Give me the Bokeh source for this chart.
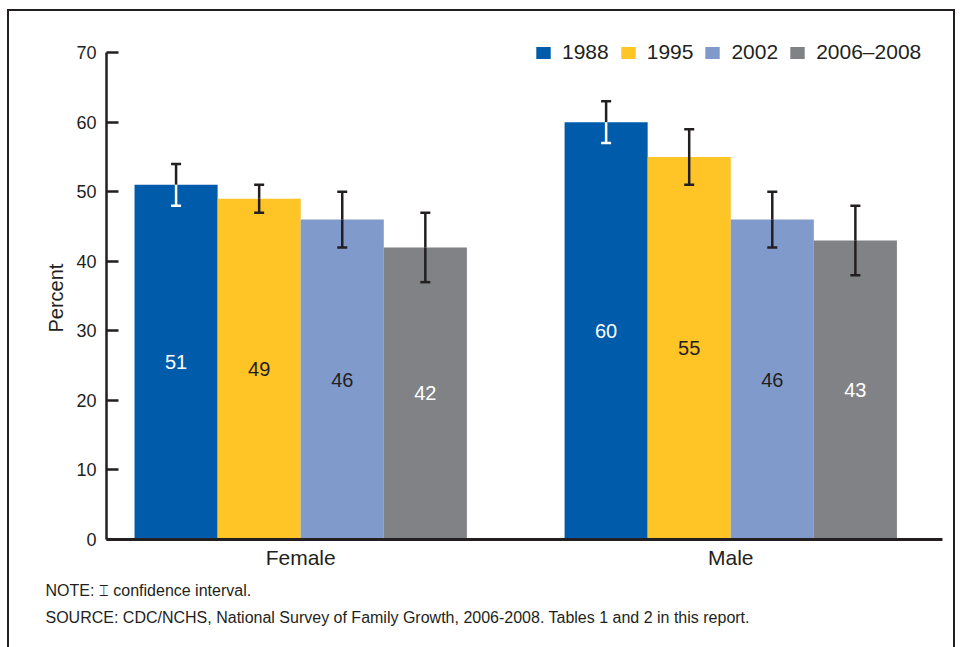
from bokeh.plotting import figure
from bokeh.models import Range1d, FixedTicker, Title, ColumnDataSource
from bokeh.core.properties import value
from bokeh.embed import file_html
from bokeh.resources import INLINE

# ---- data ----
groups = ["Female", "Male"]
years = ["1988", "1995", "2002", "2006–2008"]
pct_1988 = [51, 60]
low_1988 = [48, 57]
high_1988 = [54, 63]
pct_1995 = [49, 55]
low_1995 = [47, 51]
high_1995 = [51, 59]
pct_2002 = [46, 46]
low_2002 = [42, 42]
high_2002 = [50, 50]
pct_2006 = [42, 43]
low_2006 = [37, 38]
high_2006 = [47, 48]
y_ticks = [0, 10, 20, 30, 40, 50, 60, 70]

series = [
    (years[0], pct_1988, low_1988, high_1988),
    (years[1], pct_1995, low_1995, high_1995),
    (years[2], pct_2002, low_2002, high_2002),
    (years[3], pct_2006, low_2006, high_2006),
]
colors = ["#005BAA", "#FFC425", "#7F9ACB", "#808285"]
label_colors = ["#FFFFFF", "#231F20", "#231F20", "#FFFFFF"]
inner_err_colors = ["#FFFFFF", "#231F20", "#231F20", "#231F20"]
DARK = "#231F20"
FONT = "Liberation Sans"

bar_w = 0.1932
cap_half = 5 / 429.5

p = figure(
    width=948, height=638,
    output_backend="svg", toolbar_location=None,
    x_range=Range1d(-0.4516, 1.4924), y_range=Range1d(0, 75.92),
    min_border_left=97, min_border_right=15,
    min_border_top=0, min_border_bottom=110,
    outline_line_color=None,
    styles={
        "border-top": "2px solid #231F20",
        "border-left": "2px solid #231F20",
        "border-right": "2px solid #231F20",
    },
)
p.margin = (9, 0, 0, 7)
p.xgrid.visible = False
p.ygrid.visible = False

for i, (name, vals, lows, highs) in enumerate(series):
    off = (i - 1.5) * bar_w
    xs = [g + off for g in range(len(groups))]
    src = ColumnDataSource(dict(
        x=xs, top=vals, low=lows, high=highs,
        mid=[v / 2 for v in vals], txt=[str(v) for v in vals],
        cl=[x - cap_half for x in xs], cr=[x + cap_half for x in xs],
    ))
    p.vbar(x="x", top="top", bottom=0, width=bar_w, source=src,
           fill_color=colors[i], line_color=None, legend_label=name)
    # error bar: part above the bar top
    p.segment(x0="x", y0="top", x1="x", y1="high", source=src,
              line_color=DARK, line_width=2.5)
    p.segment(x0="cl", y0="high", x1="cr", y1="high", source=src,
              line_color=DARK, line_width=2.5)
    # error bar: part inside the bar
    p.segment(x0="x", y0="low", x1="x", y1="top", source=src,
              line_color=inner_err_colors[i], line_width=2.5)
    p.segment(x0="cl", y0="low", x1="cr", y1="low", source=src,
              line_color=inner_err_colors[i], line_width=2.5)
    # value label
    p.text(x="x", y="mid", text="txt", source=src,
           text_align="center", text_baseline="middle",
           text_font=value(FONT), text_font_size="20px",
           text_color=label_colors[i])

# y axis
ya = p.yaxis[0]
ya.ticker = FixedTicker(ticks=y_ticks)
ya.bounds = (0, 70)
ya.major_label_text_font = FONT
ya.major_label_text_font_size = "18px"
ya.major_label_text_color = DARK
ya.major_label_standoff = 10
ya.major_tick_in = 12
ya.major_tick_out = 0
ya.major_tick_line_width = 2.5
ya.major_tick_line_color = DARK
ya.minor_tick_line_color = None
ya.axis_line_width = 2.5
ya.axis_line_color = DARK

# y axis title, centred on the 0-70 span
ytitle = Title(text="Percent", align="left", offset=207, standoff=14,
               text_font=FONT, text_font_size="20px", text_font_style="normal",
               text_color=DARK)
p.add_layout(ytitle, "left")

# x axis
xa = p.xaxis[0]
xa.ticker = FixedTicker(ticks=list(range(len(groups))))
xa.major_label_overrides = {i: g for i, g in enumerate(groups)}
xa.major_label_text_font = FONT
xa.major_label_text_font_size = "21px"
xa.major_label_text_color = DARK
xa.major_label_standoff = 6
xa.major_tick_line_color = None
xa.major_tick_in = 0
xa.major_tick_out = 0
xa.minor_tick_line_color = None
xa.axis_line_width = 3
xa.axis_line_color = DARK

# legend
lg = p.legend[0]
lg.orientation = "horizontal"
lg.location = (428, 475)
lg.glyph_width = 18
lg.glyph_height = 15
lg.label_standoff = 10
lg.spacing = 10
lg.padding = 0
lg.margin = 0
lg.label_text_font = FONT
lg.label_text_font_size = "21px"
lg.label_text_color = DARK
lg.background_fill_alpha = 0
lg.border_line_color = None

# notes
note = Title(text="NOTE: \u2336 confidence interval.", align="left",
             offset=-61, standoff=16,
             text_font=FONT, text_font_size="16px", text_font_style="normal",
             text_color=DARK)
source_note = Title(text="SOURCE: CDC/NCHS, National Survey of Family Growth, 2006-2008. Tables 1 and 2 in this report.",
                    align="left", offset=-61, standoff=0,
                    text_font=FONT, text_font_size="16px", text_font_style="normal",
                    text_color=DARK)
p.add_layout(note, "below")
p.add_layout(source_note, "below")

open("out.html", "w").write(file_html(p, INLINE))
